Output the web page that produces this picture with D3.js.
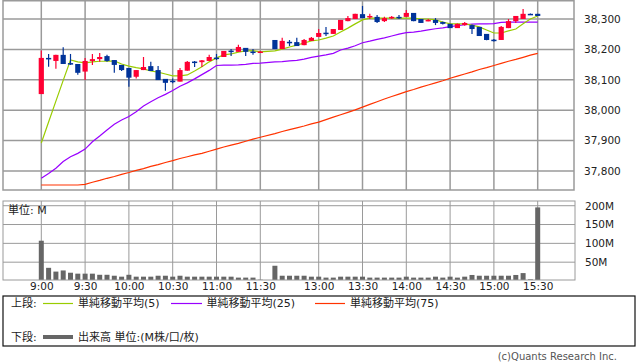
<!DOCTYPE html>
<html>
<head>
<meta charset="utf-8">
<script src="https://cdn.jsdelivr.net/npm/d3@7"></script>
<style>
  body { margin: 0; background: #fff; }
  text { font-family: "DejaVu Sans", "Noto Sans CJK JP", sans-serif; fill: #222; }
</style>
</head>
<body>
<div id="chart"></div>
<script>
// 5分足の時刻 (11:30 と 12:30 の間に空き枠が1つ)
var slots = [];
for (var m = 540; m <= 690; m += 5) slots.push(Math.floor(m / 60) + ":" + String(m % 60).padStart(2, "0"));
slots.push("-");
for (var m = 750; m <= 930; m += 5) slots.push(Math.floor(m / 60) + ":" + String(m % 60).padStart(2, "0"));

var timeTicks = ["9:00","9:30","10:00","10:30","11:00","11:30","13:00","13:30","14:00","14:30","15:00","15:30"];
var priceTicks = [37800, 37900, 38000, 38100, 38200, 38300];
var volTicks = [50, 100, 150, 200];

var open  = [38053,38172,38162,38182,38155,38152,38127,38162,38168,38178,38165,38149,38139,38110,38132,38145,38132,38103,38097,38094,
             38130,38160,38158,38162,38173,38175,38196,38192,38205,38193,38190,null,38231,38201,38225,38224,38214,38228,38241,38255,
             38251,38264,38293,38300,38316,38308,38307,38293,38305,38307,38307,38320,38300,38295,38297,38290,38284,38270,38280,38280,
             38274,38251,38232,38231,38270,38293,38300,38317,38317];
var high  = [38196,38185,38182,38207,38185,38152,38172,38185,38188,38182,38165,38149,38139,38132,38175,38159,38145,38103,38104,38139,
             38162,38162,38165,38182,38185,38195,38201,38215,38205,38201,38195,null,38231,38238,38231,38238,38234,38241,38267,38274,
             38267,38297,38310,38317,38343,38317,38313,38307,38310,38313,38330,38320,38300,38300,38303,38292,38284,38285,38290,38282,
             38274,38251,38234,38277,38300,38310,38333,38318,38317];
var low   = [38053,38143,38136,38152,38149,38117,38099,38149,38159,38159,38123,38129,38077,38104,38132,38129,38099,38064,38089,38094,
             38130,38142,38142,38162,38165,38175,38178,38192,38178,38182,38190,null,38201,38201,38211,38211,38214,38228,38241,38244,
             38251,38264,38293,38300,38303,38300,38287,38290,38300,38300,38307,38293,38287,38293,38280,38282,38270,38270,38278,38251,
             38244,38230,38226,38231,38270,38287,38300,38315,38310];
var close = [38172,38168,38182,38152,38150,38123,38162,38168,38175,38162,38149,38132,38107,38132,38142,38129,38099,38090,38095,38132,
             38159,38157,38164,38175,38170,38195,38193,38208,38192,38190,38193,null,38201,38228,38222,38211,38231,38238,38254,38252,
             38267,38297,38303,38317,38303,38310,38290,38303,38307,38305,38320,38293,38287,38297,38287,38284,38270,38284,38287,38267,
             38244,38231,38230,38274,38293,38310,38317,38315,38310];

// 出来高 (M)
var volume = [107,35,25,28,22,19.5,19.5,19.5,16.5,16.5,14,11.5,16.5,11.5,11.5,11.5,14,14,11.5,14,
              11.5,11.5,11.5,11.5,11.5,11.5,11.5,9,9,9,3.5,null,40.5,14,14,14,14,11.5,11.5,9,
              9,11.5,11.5,11.5,11.5,9,9,9,9,9,11.5,9,9,9,11.5,9,11.5,9,11.5,16,
              14,14,14,14,14,16,21,4.5,195.5];

// 単純移動平均
var ma5  = [37892,37961,38030,38098,38165,38159,38156,38159,38161,38161,38162,38152,38145,38140,38136,38129,38125,38119,38113,38113,
            38116,38129,38143,38159,38172,38182,38185,38191,38195,38196,38192,null,38195,38201,38208,38214,38221,38228,38231,38237,
            38244,38257,38270,38284,38297,38303,38303,38303,38303,38303,38303,38303,38300,38300,38297,38290,38284,38284,38284,38280,
            38274,38264,38254,38254,38261,38267,38284,38300,38310];
var ma25 = [37776,37792,37809,37831,37847,37858,37872,37896,37915,37935,37954,37968,37979,37995,38014,38028,38041,38052,38065,38079,
            38090,38103,38117,38131,38147,38148,38148,38149,38151,38154,38155,null,38159,38160,38162,38164,38168,38174,38178,38182,
            38187,38198,38204,38212,38222,38227,38233,38238,38244,38250,38255,38257,38260,38264,38268,38271,38275,38278,38281,38283,
            38284,38284,38285,38289,38290,38290,38290,38290,38290];
var ma75 = [37754,37754,37754,37754,37754,37754,37756,37763,37769,37776,37782,37789,37795,37802,37808,37815,37821,37828,37834,37841,
            37847,37853,37858,37865,37872,37879,37885,37891,37898,37905,37911,null,37923,37930,37936,37942,37948,37955,37961,37969,
            37977,37985,37993,38001,38010,38019,38028,38037,38045,38053,38061,38068,38076,38083,38090,38097,38105,38112,38119,38126,
            38134,38140,38147,38154,38161,38167,38174,38181,38187];

var w = 638, h = 362;
var left = 3, right = 574;
var upTop = 0.75, upBottom = 190;
var lowTop = 201, lowBottom = 280;

var svg = d3.select("#chart").append("svg")
  .attr("width", w).attr("height", h);

var xScale = d3.scalePoint().domain(slots).range([41.3, 537.7]);
var yScale = d3.scaleLinear().domain([37737.5, 38362.5]).range([upBottom, 0]);
var vScale = d3.scaleLinear().domain([0, 212.5]).range([281, lowTop]);

var gridColor = "#9a9a9a";

// 上段グリッド
svg.append("g").selectAll("line").data(timeTicks).enter().append("line")
  .attr("x1", d => xScale(d)).attr("x2", d => xScale(d))
  .attr("y1", upTop).attr("y2", upBottom)
  .attr("stroke", gridColor).attr("stroke-width", 1.5);
svg.append("g").selectAll("line").data(priceTicks).enter().append("line")
  .attr("x1", left).attr("x2", right)
  .attr("y1", d => yScale(d)).attr("y2", d => yScale(d))
  .attr("stroke", gridColor).attr("stroke-width", 1.5);
svg.append("rect")
  .attr("x", left).attr("y", upTop).attr("width", right - left).attr("height", upBottom - upTop)
  .attr("fill", "none").attr("stroke", gridColor).attr("stroke-width", 1.5);

// 下段グリッド
svg.append("g").selectAll("line").data(timeTicks).enter().append("line")
  .attr("x1", d => xScale(d)).attr("x2", d => xScale(d))
  .attr("y1", lowTop).attr("y2", lowBottom)
  .attr("stroke", gridColor).attr("stroke-width", 1);
svg.append("g").selectAll("line").data(volTicks).enter().append("line")
  .attr("x1", left).attr("x2", right + 1)
  .attr("y1", d => vScale(d)).attr("y2", d => vScale(d))
  .attr("stroke", gridColor).attr("stroke-width", 1);

// 出来高
var bars = [];
slots.forEach(function(t, i) { if (volume[i] != null) bars.push({ t: t, v: volume[i] }); });
svg.append("g").selectAll("rect").data(bars).enter().append("rect")
  .attr("x", d => xScale(d.t) - 2.5)
  .attr("width", 5)
  .attr("y", d => vScale(d.v))
  .attr("height", d => lowBottom - vScale(d.v))
  .attr("fill", "#666");

svg.append("rect")
  .attr("x", left).attr("y", lowTop).attr("width", right + 1 - left).attr("height", lowBottom - lowTop)
  .attr("fill", "none").attr("stroke", gridColor).attr("stroke-width", 1);

// 移動平均線
function maLine(values) {
  var pts = [];
  slots.forEach(function(t, i) { if (values[i] != null) pts.push({ t: t, v: values[i] }); });
  return pts;
}
var line = d3.line().x(d => xScale(d.t)).y(d => yScale(d.v));
[[ma75, "#ff3300"], [ma25, "#9900ff"], [ma5, "#99cc00"]].forEach(function(s) {
  svg.append("path")
    .datum(maLine(s[0]))
    .attr("d", line)
    .attr("fill", "none")
    .attr("stroke", s[1])
    .attr("stroke-width", 1.2);
});

// ローソク足
var candles = [];
slots.forEach(function(t, i) {
  if (open[i] != null) candles.push({ t: t, o: open[i], h: high[i], l: low[i], c: close[i] });
});
var cg = svg.append("g").selectAll("g").data(candles).enter().append("g");
cg.append("line")
  .attr("x1", d => xScale(d.t)).attr("x2", d => xScale(d.t))
  .attr("y1", d => yScale(d.h)).attr("y2", d => yScale(d.l))
  .attr("stroke", d => d.c >= d.o ? "#ff0033" : "#003399")
  .attr("stroke-width", 1.2);
cg.append("rect")
  .attr("x", d => xScale(d.t) - 2.6)
  .attr("width", 5.2)
  .attr("y", d => yScale(Math.max(d.o, d.c)))
  .attr("height", d => Math.max(1.5, Math.abs(yScale(d.o) - yScale(d.c))))
  .attr("fill", d => d.c >= d.o ? "#ff0033" : "#003399");

// 軸ラベル
var yAxis = d3.axisRight(yScale).tickValues(priceTicks).tickSize(0).tickPadding(10).tickFormat(d3.format(","));
svg.append("g").attr("transform", "translate(" + right + ",0)").call(yAxis)
  .call(g => g.select(".domain").remove())
  .selectAll("text").style("font-size", "10.5px");

var vAxis = d3.axisRight(vScale).tickValues(volTicks).tickSize(0).tickPadding(10).tickFormat(d => d + "M");
svg.append("g").attr("transform", "translate(" + (right + 1) + ",0)").call(vAxis)
  .call(g => g.select(".domain").remove())
  .selectAll("text").style("font-size", "10.5px");

var xAxis = d3.axisBottom(xScale).tickValues(timeTicks).tickSize(0).tickPadding(3);
svg.append("g").attr("transform", "translate(0," + lowBottom + ")").call(xAxis)
  .call(g => g.select(".domain").remove())
  .selectAll("text").style("font-size", "10.5px");

svg.append("text").attr("x", 8).attr("y", 210.5).attr("dominant-baseline", "central")
  .style("font-size", "11px").text("単位: M");

// 凡例
svg.append("rect").attr("x", 3).attr("y", 296).attr("width", 632).attr("height", 50)
  .attr("fill", "none").attr("stroke", "#111").attr("stroke-width", 1.2);

var legendRow1 = [
  { x1: 43, x2: 73, tx: 78, color: "#99cc00", label: "単純移動平均(5)" },
  { x1: 171, x2: 202, tx: 206.5, color: "#9900ff", label: "単純移動平均(25)" },
  { x1: 315, x2: 345, tx: 350, color: "#ff3300", label: "単純移動平均(75)" }
];
svg.append("text").attr("x", 11).attr("y", 303.5).attr("dominant-baseline", "central")
  .style("font-size", "11px").text("上段:");
legendRow1.forEach(function(d) {
  svg.append("line").attr("x1", d.x1).attr("x2", d.x2).attr("y1", 303.5).attr("y2", 303.5)
    .attr("stroke", d.color).attr("stroke-width", 1.2);
  svg.append("text").attr("x", d.tx).attr("y", 303.5).attr("dominant-baseline", "central")
    .style("font-size", "11px").text(d.label);
});
svg.append("text").attr("x", 11).attr("y", 337).attr("dominant-baseline", "central")
  .style("font-size", "11px").text("下段:");
svg.append("line").attr("x1", 43).attr("x2", 73).attr("y1", 337).attr("y2", 337)
  .attr("stroke", "#666").attr("stroke-width", 4);
svg.append("text").attr("x", 78).attr("y", 337).attr("dominant-baseline", "central")
  .style("font-size", "11px").text("出来高 単位:(M株/口/枚)");

svg.append("text").attr("x", 617).attr("y", 356).attr("dominant-baseline", "central")
  .attr("text-anchor", "end").style("font-size", "10px").style("fill", "#555")
  .text("(c)Quants Research Inc.");
</script>
</body>
</html>
